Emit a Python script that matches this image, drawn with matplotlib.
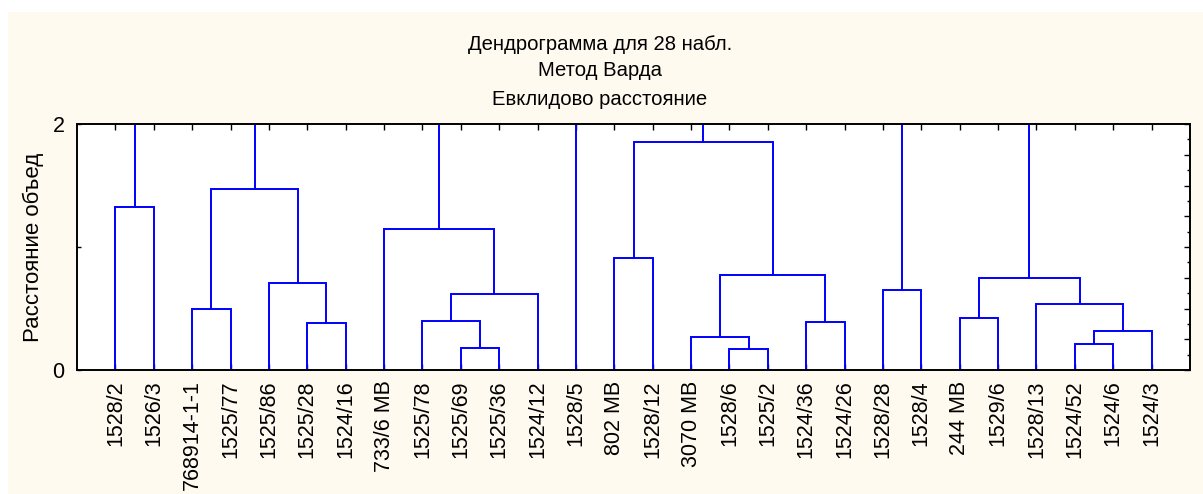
import matplotlib
matplotlib.use("Agg")
import matplotlib.pyplot as plt
from matplotlib.patches import Rectangle

plt.rcParams['font.family'] = ['Liberation Sans', 'DejaVu Sans']

# ---- data ----
title_lines = ["Дендрограмма для 28 набл.", "Метод Варда", "Евклидово расстояние"]
y_label = "Расстояние объед"

leaves = ["1528/2", "1526/3", "768914-1-1", "1525/77", "1525/86", "1525/28",
          "1524/16", "733/6 MB", "1525/78", "1525/69", "1525/36", "1524/12",
          "1528/5", "802 MB", "1528/12", "3070 MB", "1528/6", "1525/2",
          "1524/36", "1524/26", "1528/28", "1528/4", "244 MB", "1529/6",
          "1528/13", "1524/52", "1524/6", "1524/3"]

# merges: (left node, right node, height); node ids 0..27 = leaves, 28+ = merges in order
merge_left = [0, 2, 5, 4, 29, 9, 8, 34, 7, 13, 16, 15, 18, 39, 37, 20, 25, 44, 24, 22, 47]
merge_right = [1, 3, 6, 30, 31, 10, 33, 11, 35, 14, 17, 38, 19, 40, 41, 21, 26, 27, 45, 23, 46]
merge_height = [1.325, 0.50, 0.382, 0.707, 1.47, 0.179, 0.398, 0.618, 1.146, 0.91,
                0.171, 0.268, 0.39, 0.77, 1.854, 0.65, 0.21, 0.32, 0.54, 0.423, 0.745]
# clusters that are joined above the visible range
top_nodes = [28, 32, 36, 12, 42, 43, 48]
upper_join_height = 3.0

n = len(leaves)

fig = plt.figure(figsize=(12.03, 4.94), dpi=100)
fig.patch.set_facecolor('white')
W, H = 1203, 494
bg = '#FFFAF0'
fig.patches.append(Rectangle((8 / W, 0), 1 - 8 / W, 1 - 12 / H, transform=fig.transFigure,
                             facecolor=bg, edgecolor='none', zorder=-10))

ax = fig.add_axes([77 / W, 1 - 370 / H, (1190 - 77) / W, (370 - 124) / H])
ax.set_facecolor('white')

xpos = {i: i + 1 for i in range(n)}
hgt = {i: 0.0 for i in range(n)}
blue = '#0000FF'
lw = 1.4
for k, (a, b, h) in enumerate(zip(merge_left, merge_right, merge_height)):
    node = n + k
    xa, xb = xpos[a], xpos[b]
    ax.plot([xa, xa, xb, xb], [hgt[a], h, h, hgt[b]], color=blue, lw=lw,
            solid_joinstyle='miter', zorder=3)
    xpos[node] = (xa + xb) / 2
    hgt[node] = h

for node in top_nodes:
    ax.plot([xpos[node], xpos[node]], [hgt[node], upper_join_height], color=blue, lw=lw, zorder=3)

ax.set_xlim(0, n + 1)
ax.set_ylim(0, 2)

ax.set_xticks(range(1, n + 1))
ax.set_xticklabels(leaves, rotation=90, fontsize=15.5, va='top', ha='center')
ax.tick_params(axis='x', which='both', direction='in', top=True, bottom=True,
               length=4, width=1.0, pad=7.5)

ax.set_yticks([0, 1, 2])
ax.set_yticklabels(['0', '', '2'], fontsize=15.5)
ax.tick_params(axis='y', which='both', direction='in', left=True, right=False,
               length=3, width=1.0, pad=9)

ax2 = ax.twinx()
ax2.set_ylim(0, 2)
ax2.set_yticks([i * 0.25 for i in range(9)])
ax2.set_yticks([0.125 + i * 0.25 for i in range(8)], minor=True)
ax2.tick_params(axis='y', which='major', direction='in', length=4, width=1.0, labelright=False)
ax2.tick_params(axis='y', which='minor', direction='in', length=2, width=1.0)

for a in (ax, ax2):
    for s in a.spines.values():
        s.set_linewidth(1.2)
        s.set_color('black')

fig.text(33 / W, 1 - 247 / H, y_label, rotation=90, ha='center', va='center', fontsize=16)

title_y = [44, 71, 99]
for t, y in zip(title_lines, title_y):
    fig.text(600 / W, 1 - y / H, t, ha='center', va='center', fontsize=14.6)

fig.savefig('out.png', dpi=100, facecolor=fig.get_facecolor())
